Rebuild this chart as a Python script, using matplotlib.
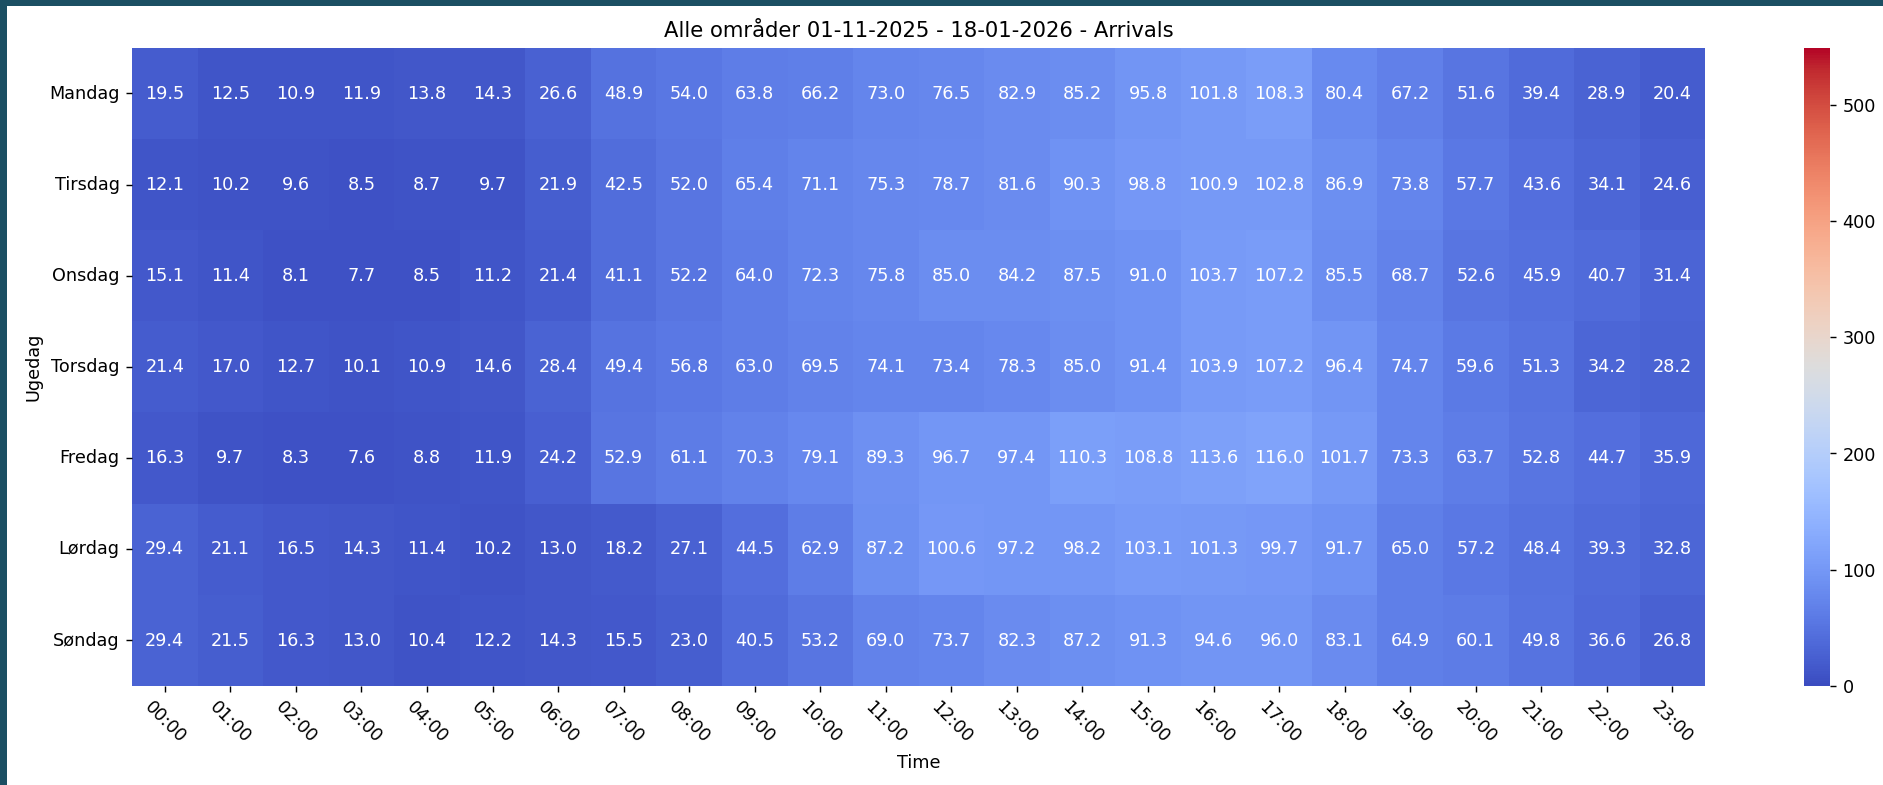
import numpy as np
import pandas as pd
import seaborn as sns
from matplotlib import patches
from matplotlib import pyplot

DAYS = ['Mandag', 'Tirsdag', 'Onsdag', 'Torsdag', 'Fredag', 'Lørdag', 'Søndag']
HOURS = ['%02d:00' % h for h in range(24)]

MANDAG = [19.5, 12.5, 10.9, 11.9, 13.8, 14.3, 26.6, 48.9, 54.0, 63.8, 66.2, 73.0,
          76.5, 82.9, 85.2, 95.8, 101.8, 108.3, 80.4, 67.2, 51.6, 39.4, 28.9, 20.4]
TIRSDAG = [12.1, 10.2, 9.6, 8.5, 8.7, 9.7, 21.9, 42.5, 52.0, 65.4, 71.1, 75.3,
           78.7, 81.6, 90.3, 98.8, 100.9, 102.8, 86.9, 73.8, 57.7, 43.6, 34.1, 24.6]
ONSDAG = [15.1, 11.4, 8.1, 7.7, 8.5, 11.2, 21.4, 41.1, 52.2, 64.0, 72.3, 75.8,
          85.0, 84.2, 87.5, 91.0, 103.7, 107.2, 85.5, 68.7, 52.6, 45.9, 40.7, 31.4]
TORSDAG = [21.4, 17.0, 12.7, 10.1, 10.9, 14.6, 28.4, 49.4, 56.8, 63.0, 69.5, 74.1,
           73.4, 78.3, 85.0, 91.4, 103.9, 107.2, 96.4, 74.7, 59.6, 51.3, 34.2, 28.2]
FREDAG = [16.3, 9.7, 8.3, 7.6, 8.8, 11.9, 24.2, 52.9, 61.1, 70.3, 79.1, 89.3,
          96.7, 97.4, 110.3, 108.8, 113.6, 116.0, 101.7, 73.3, 63.7, 52.8, 44.7, 35.9]
LORDAG = [29.4, 21.1, 16.5, 14.3, 11.4, 10.2, 13.0, 18.2, 27.1, 44.5, 62.9, 87.2,
          100.6, 97.2, 98.2, 103.1, 101.3, 99.7, 91.7, 65.0, 57.2, 48.4, 39.3, 32.8]
SONDAG = [29.4, 21.5, 16.3, 13.0, 10.4, 12.2, 14.3, 15.5, 23.0, 40.5, 53.2, 69.0,
          73.7, 82.3, 87.2, 91.3, 94.6, 96.0, 83.1, 64.9, 60.1, 49.8, 36.6, 26.8]

VMAX = 549

W, H = 1883, 785
DPI = 127


def main():
  data = pd.DataFrame(
      [MANDAG, TIRSDAG, ONSDAG, TORSDAG, FREDAG, LORDAG, SONDAG],
      index=DAYS, columns=HOURS)

  fig = pyplot.figure(figsize=((W + 0.2) / DPI, (H + 0.2) / DPI), dpi=DPI)
  # screenshot background showing at the left and top edges
  fig.patch.set_facecolor('#1b4f63')
  fig.patches.append(patches.Rectangle(
      (7.0 / W, 0), 1 - 7.0 / W, 1 - 6.0 / H, transform=fig.transFigure,
      facecolor='white', edgecolor='none', zorder=-1))

  bottom = 1 - 686.0 / H
  height = (686.0 - 48.0) / H
  ax = fig.add_axes([132.0 / W, bottom, (1705.0 - 132.0) / W, height])
  cax = fig.add_axes([1804.0 / W, bottom, 26.0 / W, height])

  sns.heatmap(data, ax=ax, cbar_ax=cax, cmap='coolwarm', vmin=0, vmax=VMAX,
              annot=True, fmt='.1f', annot_kws={'color': 'white'})
  ax.set_title('Alle områder 01-11-2025 - 18-01-2026 - Arrivals')
  ax.set_xlabel('Time')
  ax.set_ylabel('Ugedag')
  pyplot.setp(ax.get_xticklabels(), rotation=-45)
  pyplot.setp(ax.get_yticklabels(), rotation=0)
  cax.set_yticks([0, 100, 200, 300, 400, 500])

  fig.savefig('out.png', dpi=DPI, facecolor=fig.get_facecolor())


if __name__ == '__main__':
  main()
